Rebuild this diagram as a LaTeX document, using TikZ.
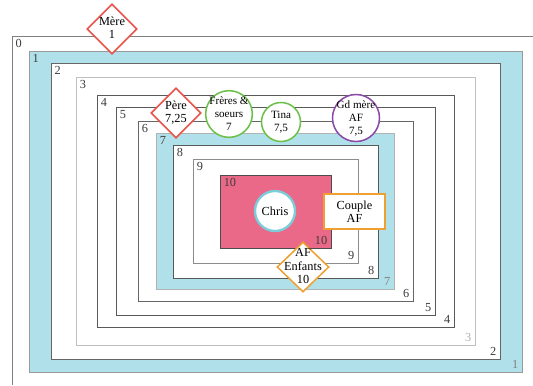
\documentclass[tikz,border=0pt]{standalone}
\usepackage{fontspec}
\setmainfont{Liberation Serif}
\usetikzlibrary{shapes.geometric}

\definecolor{lightblue}{RGB}{176,224,234}
\definecolor{chrispink}{RGB}{234,104,136}
\definecolor{redline}{RGB}{232,84,74}
\definecolor{greenline}{RGB}{108,192,74}
\definecolor{purpleline}{RGB}{138,74,168}
\definecolor{orangeline}{RGB}{240,160,48}
\definecolor{chrisline}{RGB}{124,204,218}
\definecolor{numgray}{RGB}{60,60,60}

% text set in a box of no size, so the shape keeps its own size
\newcommand{\ntext}[1]{\smash{\raisebox{-0.3em}{\makebox[0pt]{\begin{tabular}{@{}c@{}}#1\end{tabular}}}}}

\begin{document}
\begin{tikzpicture}[x=0.03cm, y=-0.03cm, font=\fontsize{10.5}{11.5}\selectfont]
\tikzstyle{frame} = [draw=gray!90!black, line width=0.7pt]
\tikzstyle{tl} = [anchor=north west, inner sep=3pt, text=numgray]
\tikzstyle{br} = [anchor=south east, inner sep=3pt, text=numgray]
\tikzstyle{losange} = [diamond, draw=redline, line width=1.3pt, fill=white, inner sep=0pt, minimum size=1.5cm]
\tikzstyle{rond} = [circle, draw=greenline, line width=1.3pt, fill=white, inner sep=0pt, font=\fontsize{9.5}{11}\selectfont]
\useasboundingbox (0,0) rectangle (533,385);

% Systems
\draw [frame, draw=gray] (12,385) -- (12,36) -- (533,36);
\draw [frame, draw=gray!80, fill=lightblue] (29,51) rectangle (522,372);
\draw [frame, draw=gray!80!black, fill=white] (51,63) rectangle (500,359);
\draw [frame, draw=gray!50, fill=white] (76,77) rectangle (475,345);
\draw [frame, draw=gray!70!black, fill=white] (97,95) rectangle (454,327);
\draw [frame, draw=gray!70!black, fill=white] (116,107) rectangle (435,315);
\draw [frame, draw=gray!80!black, fill=white] (138,121) rectangle (413,301);
\draw [frame, draw=gray!60, fill=lightblue] (156,133) rectangle (394,289);
\draw [frame, draw=gray!70!black, fill=white] (173,145) rectangle (378,278);
\draw [frame, draw=gray!90, fill=white] (193,159) rectangle (358,263);
\draw [frame, draw=gray!60!black, fill=chrispink] (220,175) rectangle (331,248);

% Numbers
\node (l0) [tl] at (12,36) {0};
\node (l1) [tl] at (29,51) {1};
\node (l2) [tl] at (51,63) {2};
\node (l3) [tl] at (76,77) {3};
\node (l4) [tl] at (97,95) {4};
\node (l5) [tl] at (116,107) {5};
\node (l6) [tl] at (138,121) {6};
\node (l7) [tl] at (156,133) {7};
\node (l8) [tl] at (173,145) {8};
\node (l9) [tl] at (193,159) {9};
\node (l10) [tl] at (220,175) {10};
\node (r1) [br, text=gray] at (522,372) {1};
\node (r2) [br] at (500,359) {2};
\node (r3) [br, text=gray!60] at (475,345) {3};
\node (r4) [br] at (454,327) {4};
\node (r5) [br] at (435,315) {5};
\node (r6) [br] at (413,301) {6};
\node (r7) [br, text=gray] at (394,289) {7};
\node (r8) [br] at (378,278) {8};
\node (r9) [br] at (358,263) {9};
\node (r10) [br] at (331,248) {10};

% Persons
\node (mere) [losange] at (112,29) {\ntext{Mère\\1}};
\node (pere) [losange] at (176,113) {\ntext{Père\\7,25}};
\node (freres) [rond, minimum size=1.4cm] at (229,114) {\ntext{Frères \&\\soeurs\\7}};
\node (tina) [rond, minimum size=1.17cm] at (281,122) {\ntext{Tina\\7,5}};
\node (gdmere) [rond, draw=purpleline, minimum size=1.41cm] at (356,118) {\ntext{Gd mère\\AF\\7,5}};
\node (chris) [circle, draw=chrisline, line width=2pt, fill=white, minimum size=1.2cm, inner sep=0pt] at (275,211) {Chris};
\node (couple) [rectangle, draw=orangeline, line width=1.5pt, fill=white, minimum width=1.83cm, minimum height=1.05cm, align=center] at (354.5,211.5) {Couple\\AF};
\node (afenf) [losange, draw=orangeline, minimum width=1.56cm] at (303,267) {\ntext{AF\\Enfants\\10}};

\end{tikzpicture}
\end{document}
